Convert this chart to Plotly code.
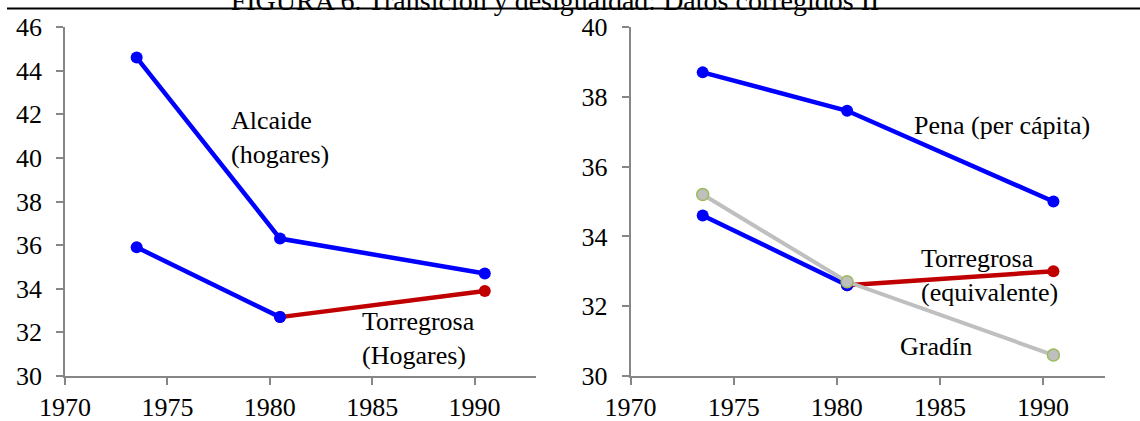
import plotly.graph_objects as go

# ---- data ----
years = [1973.5, 1980.5, 1990.5]

# left panel
alcaide = [44.6, 36.3, 34.7]
bajo_izq_years = [1973.5, 1980.5]
bajo_izq = [35.9, 32.7]
torre_hog_years = [1980.5, 1990.5]
torre_hog = [32.7, 33.9]

# right panel
pena = [38.7, 37.6, 35.0]
bajo_der_years = [1973.5, 1980.5]
bajo_der = [34.6, 32.6]
torre_eq_years = [1980.5, 1990.5]
torre_eq = [32.6, 33.0]
gradin = [35.2, 32.7, 30.6]

x_ticks = [1970, 1975, 1980, 1985, 1990]
y_ticks_left = [30, 32, 34, 36, 38, 40, 42, 44, 46]
y_ticks_right = [30, 32, 34, 36, 38, 40]

title_text = "FIGURA 6. Transición y desigualdad: Datos corregidos II"

FONT = "Liberation Serif"
BLUE = "#0000FF"
RED = "#C00000"
GRAY = "#BFBFBF"
GREEN = "#9BBB59"
AXIS = "#868686"

fig = go.Figure()

def line(x, y, color, xa, ya, width=4.5, msize=12, mline=None):
    fig.add_trace(go.Scatter(
        x=x, y=y, mode="lines+markers", xaxis=xa, yaxis=ya,
        line=dict(color=color, width=width),
        marker=dict(color=color, size=msize,
                    line=dict(color=mline if mline else color, width=1.5 if mline else 0)),
        showlegend=False, hoverinfo="x+y"))

# left
line(torre_hog_years, torre_hog, RED, "x", "y")
line(years, alcaide, BLUE, "x", "y")
line(bajo_izq_years, bajo_izq, BLUE, "x", "y")
# right
line(torre_eq_years, torre_eq, RED, "x2", "y2")
line(years, pena, BLUE, "x2", "y2")
line(bajo_der_years, bajo_der, BLUE, "x2", "y2")
line(years, gradin, GRAY, "x2", "y2", width=4, msize=12, mline=GREEN)

W, H = 1140, 421
def px_x(p):
    return p / W
def px_y(p):
    return 1 - p / H

ax_common = dict(showgrid=False, zeroline=False, showline=True, linecolor=AXIS,
                 linewidth=1.5, ticks="outside", ticklen=7, tickwidth=1.5,
                 tickcolor=AXIS, tickfont=dict(family=FONT, size=26, color="black"),
                 fixedrange=True, automargin=False)

fig.update_layout(
    template="none",
    width=W, height=H, autosize=False,
    margin=dict(l=0, r=0, t=0, b=0, pad=0),
    paper_bgcolor="white", plot_bgcolor="white",
    font=dict(family=FONT, size=26, color="black"),
    title=dict(text=title_text, x=px_x(555), xanchor="center", xref="container",
               y=1, yanchor="middle", yref="container", automargin=False,
               font=dict(family=FONT, size=28, color="black")),
    xaxis=dict(domain=[px_x(65), px_x(536)], range=[1970, 1993],
               tickvals=x_ticks, anchor="y", ticklabelstandoff=0, **ax_common),
    yaxis=dict(domain=[px_y(376), px_y(27)], range=[30, 46],
               tickvals=y_ticks_left, anchor="x", ticklabelstandoff=9, **ax_common),
    xaxis2=dict(domain=[px_x(630.5), px_x(1105)], range=[1970, 1993],
                tickvals=x_ticks, anchor="y2", ticklabelstandoff=0, **ax_common),
    yaxis2=dict(domain=[px_y(376), px_y(27)], range=[30, 40],
                tickvals=y_ticks_right, anchor="x2", ticklabelstandoff=9, **ax_common),
)

ann_font = dict(family=FONT, size=26, color="black")
labels = [
    ("Alcaide<br>(hogares)", "x", "y", 1978.0, 40.94),
    ("Torregrosa<br>(Hogares)", "x", "y", 1984.4, 31.70),
    ("Pena (per cápita)", "x2", "y2", 1983.65, 37.19),
    ("Torregrosa<br>(equivalente)", "x2", "y2", 1983.98, 32.885),
    ("Gradín", "x2", "y2", 1982.99, 30.84),
]
for text, xr, yr, x, y in labels:
    fig.add_annotation(text=text, xref=xr, yref=yr, x=x, y=y, xanchor="left",
                       yanchor="middle", align="left", showarrow=False, font=ann_font)

# rule under the (cut-off) title
fig.add_shape(type="line", xref="paper", yref="paper", x0=px_x(7), x1=1,
              y0=px_y(8.5), y1=px_y(8.5), line=dict(color="black", width=2))

fig.write_html("out.html",
               config={"displayModeBar": False},
               post_script="document.body.style.margin='0';"
                           "document.body.style.overflow='hidden';")
